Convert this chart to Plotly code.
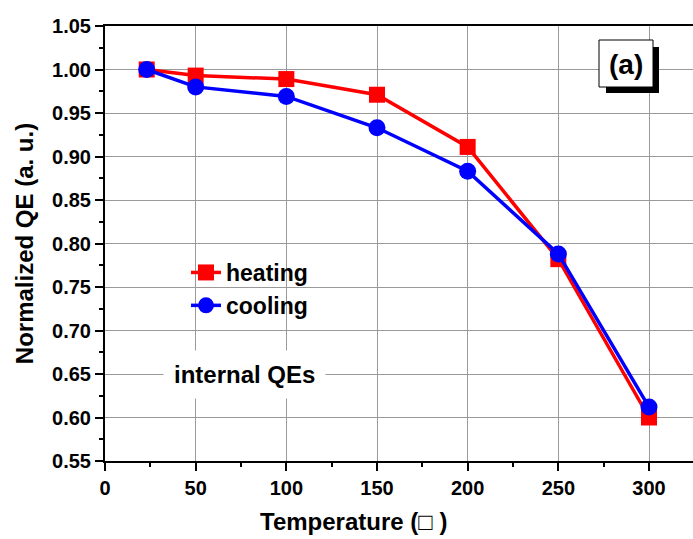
import plotly.graph_objects as go

# Normalized quantum efficiency vs. temperature
temps = [23, 50, 100, 150, 200, 250, 300]
heating = [1.000, 0.993, 0.989, 0.971, 0.911, 0.782, 0.600]
cooling = [1.000, 0.980, 0.969, 0.933, 0.883, 0.788, 0.612]

x_ticks = [0, 50, 100, 150, 200, 250, 300]
y_ticks = [0.55, 0.60, 0.65, 0.70, 0.75, 0.80, 0.85, 0.90, 0.95, 1.00, 1.05]

W, H = 693, 539
L, R, T, B = 105, 0, 26, 78
PW, PH = W - L - R, H - T - B


def px(xp):
    return (xp - L) / PW


def py(yp):
    return (T + PH - yp) / PH


FONT = "Liberation Sans, Arial, sans-serif"

fig = go.Figure()
fig.add_trace(go.Scatter(
    x=temps, y=heating, name="heating", mode="lines+markers",
    line=dict(color="#ff0000", width=3.5),
    marker=dict(symbol="square", size=16, color="#ff0000"),
))
fig.add_trace(go.Scatter(
    x=temps, y=cooling, name="cooling", mode="lines+markers",
    line=dict(color="#0000ff", width=3.5),
    marker=dict(symbol="circle", size=17, color="#0000ff"),
))

axis_common = dict(
    showline=True, linecolor="black", linewidth=2,
    ticks="outside", ticklen=8, tickwidth=1.5, tickcolor="black",
    showgrid=True, gridcolor="#9a9a9a", gridwidth=1,
    zeroline=False,
    tickfont=dict(family=FONT, size=20, color="black", weight="bold"),
)

# 300 units span 544 px of the 588 px plot width
fig.update_xaxes(
    range=[0, 588 / (544 / 300)],
    tickvals=x_ticks, ticktext=[str(v) for v in x_ticks],
    mirror=True,
    minor=dict(dtick=25, tick0=0, ticks="outside", ticklen=4,
               tickwidth=1.5, tickcolor="black", showgrid=False),
    **axis_common,
)
fig.update_yaxes(
    range=[0.55, 1.05],
    tickvals=y_ticks, ticktext=[f"{v:.2f}" for v in y_ticks],
    minor=dict(dtick=0.025, tick0=0.55, ticks="outside", ticklen=4,
               tickwidth=1.5, tickcolor="black", showgrid=False),
    title=dict(text="Normalized QE (a. u.)", standoff=12,
               font=dict(family=FONT, size=24, color="black", weight="bold")),
    **axis_common,
)

shapes = [
    # white backdrop behind the legend
    dict(type="rect", xref="paper", yref="paper", layer="between",
         x0=px(157), x1=px(325), y0=py(320), y1=py(253),
         fillcolor="white", line=dict(width=0)),
    # shadowed label box
    dict(type="rect", xref="paper", yref="paper", layer="above",
         x0=px(606), x1=px(659), y0=py(93), y1=py(47),
         fillcolor="black", line=dict(width=0)),
    dict(type="rect", xref="paper", yref="paper", layer="above",
         x0=px(599), x1=px(653), y0=py(87), y1=py(40),
         fillcolor="white", line=dict(color="black", width=1)),
]

annotations = [
    dict(text="(a)", xref="paper", yref="paper", x=px(626), y=py(64),
         showarrow=False, xanchor="center", yanchor="middle",
         font=dict(family=FONT, size=28, color="black", weight="bold")),
    dict(text="internal QEs", xref="paper", yref="paper", x=px(244), y=py(374),
         showarrow=False, xanchor="center", yanchor="middle",
         bgcolor="white", borderpad=10,
         font=dict(family=FONT, size=24, color="black", weight="bold")),
    dict(text="Temperature (\u25a1 )", xref="paper", yref="paper",
         x=px(353), y=py(521), showarrow=False, xanchor="center", yanchor="middle",
         font=dict(family=FONT, size=24, color="black", weight="bold")),
]

fig.update_layout(
    width=W, height=H,
    margin=dict(l=L, r=R, t=T, b=B, pad=0),
    paper_bgcolor="white", plot_bgcolor="white",
    showlegend=True,
    legend=dict(x=px(186), y=py(251), xanchor="left", yanchor="top",
                bgcolor="rgba(0,0,0,0)", borderwidth=0,
                font=dict(family=FONT, size=23, color="black", weight="bold"),
                tracegroupgap=0, itemwidth=30),
    shapes=shapes,
    annotations=annotations,
)

fig.write_html("out.html")
